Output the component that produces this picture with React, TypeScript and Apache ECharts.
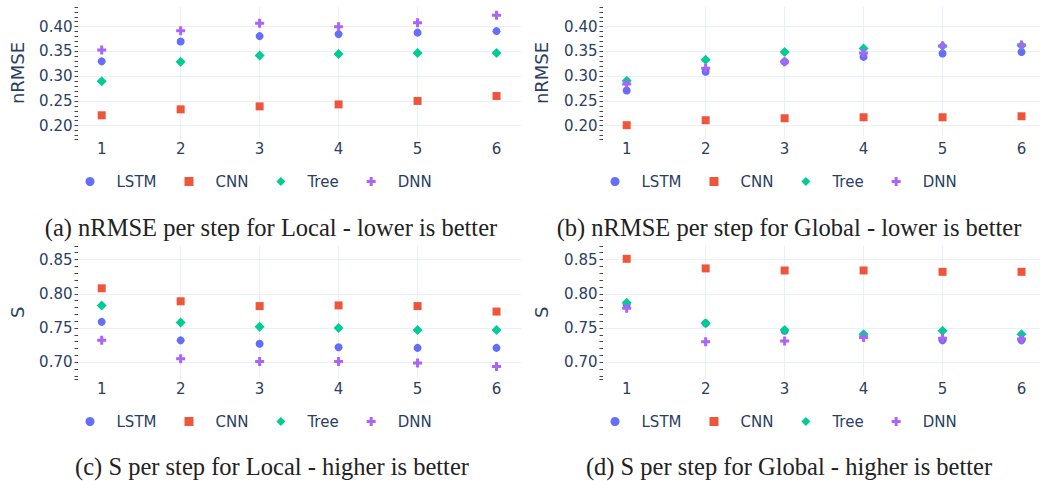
import React, { useEffect, useRef } from "react";
import * as echarts from "echarts";

// ---------- data ----------
const steps = [1, 2, 3, 4, 5, 6];
const modelNames = ["LSTM", "CNN", "Tree", "DNN"];

// (a) nRMSE per step, Local
const localNrmseLSTM = [0.330, 0.370, 0.381, 0.385, 0.388, 0.391];
const localNrmseCNN = [0.221, 0.233, 0.239, 0.243, 0.250, 0.260];
const localNrmseTree = [0.290, 0.329, 0.342, 0.345, 0.347, 0.347];
const localNrmseDNN = [0.353, 0.392, 0.407, 0.400, 0.408, 0.423];

// (b) nRMSE per step, Global
const globalNrmseLSTM = [0.271, 0.309, 0.329, 0.339, 0.346, 0.349];
const globalNrmseCNN = [0.201, 0.211, 0.215, 0.217, 0.217, 0.219];
const globalNrmseTree = [0.291, 0.333, 0.349, 0.356, 0.361, 0.362];
const globalNrmseDNN = [0.284, 0.316, 0.329, 0.347, 0.361, 0.363];

// (c) S per step, Local
const localSLSTM = [0.759, 0.732, 0.727, 0.722, 0.721, 0.721];
const localSCNN = [0.808, 0.789, 0.782, 0.783, 0.782, 0.774];
const localSTree = [0.783, 0.758, 0.752, 0.750, 0.747, 0.747];
const localSDNN = [0.732, 0.705, 0.701, 0.701, 0.699, 0.694];

// (d) S per step, Global
const globalSLSTM = [0.784, 0.757, 0.746, 0.739, 0.732, 0.732];
const globalSCNN = [0.851, 0.837, 0.834, 0.834, 0.832, 0.832];
const globalSTree = [0.787, 0.757, 0.747, 0.741, 0.746, 0.741];
const globalSDNN = [0.779, 0.730, 0.731, 0.736, 0.735, 0.734];

const captions = [
  "(a) nRMSE per step for Local - lower is better",
  "(b) nRMSE per step for Global - lower is better",
  "(c) S per step for Local - higher is better",
  "(d) S per step for Global - higher is better",
];

// ---------- styles ----------
const COLORS = ["#636efa", "#EF553B", "#00cc96", "#ab63fa"];
const SYMBOLS = ["circle", "rect", "diamond", "path://M3,0H6V3H9V6H6V9H3V6H0V3H3Z"];
const SYMBOL_SIZES = [8, 8, 10, 9];
const TEXT = "#2a3f5f";
const GRIDC = "#ebf0f8";
const FONT = "DejaVu Sans";
const TICKC = "#444444";

const panels = [
  { series: [localNrmseLSTM, localNrmseCNN, localNrmseTree, localNrmseDNN], left: 78, top: 6.9, height: 132.1, ymin: 0.1731, ymax: 0.44, name: "nRMSE", split: 5, nameGap: 52, legendLeft: 85.5, legendTop: 174, cap: { x: 271, y: 227 } },
  { series: [globalNrmseLSTM, globalNrmseCNN, globalNrmseTree, globalNrmseDNN], left: 603, top: 6.9, height: 132.1, ymin: 0.1731, ymax: 0.44, name: "nRMSE", split: 5, nameGap: 53, legendLeft: 610.5, legendTop: 174, cap: { x: 789, y: 227 } },
  { series: [localSLSTM, localSCNN, localSTree, localSDNN], left: 78, top: 245.8, height: 133.2, ymin: 0.6756, ymax: 0.87, name: "S", split: 4, nameGap: 52, legendLeft: 85.5, legendTop: 414, cap: { x: 272, y: 466 } },
  { series: [globalSLSTM, globalSCNN, globalSTree, globalSDNN], left: 603, top: 245.8, height: 133.2, ymin: 0.6756, ymax: 0.87, name: "S", split: 4, nameGap: 53, legendLeft: 610.5, legendTop: 414, cap: { x: 789, y: 466 } },
];

function buildOption() {
  const grid: any[] = [];
  const xAxis: any[] = [];
  const yAxis: any[] = [];
  const series: any[] = [];
  const legend: any[] = [];
  const graphic: any[] = [];

  panels.forEach((p, gi) => {
    grid.push({ left: p.left, top: p.top, width: 443, height: p.height, containLabel: false, outerBoundsMode: "none" });
    xAxis.push({
      type: "value",
      gridIndex: gi,
      min: 0.7,
      max: 6.31,
      splitNumber: 5,
      axisLine: { show: false },
      axisTick: { show: false, customValues: steps },
      axisLabel: {
        customValues: steps,
        color: TEXT,
        fontFamily: FONT,
        fontSize: 15,
        margin: 2,
        formatter: (v: number) => String(v),
      },
      splitLine: { show: true, showMinLine: false, showMaxLine: false, lineStyle: { color: GRIDC, width: 1 } },
    });
    yAxis.push({
      type: "value",
      gridIndex: gi,
      min: p.ymin,
      max: p.ymax,
      splitNumber: p.split,
      name: p.name,
      nameLocation: "middle",
      nameGap: p.nameGap,
      nameTextStyle: { color: TEXT, fontFamily: FONT, fontSize: 18 },
      axisLine: { show: false },
      axisTick: { show: true, inside: false, length: 3.5, lineStyle: { color: TICKC, width: 1 } },
      minorTick: { show: true, splitNumber: 5, length: 3.5, lineStyle: { color: TICKC, width: 1 } },
      minorSplitLine: { show: false },
      axisLabel: {
        showMinLabel: false,
        showMaxLabel: false,
        color: TEXT,
        fontFamily: FONT,
        fontSize: 15,
        margin: 5.5,
        formatter: (v: number) => v.toFixed(2),
      },
      splitLine: { show: true, showMinLine: false, showMaxLine: false, lineStyle: { color: GRIDC, width: 1 } },
    });
    p.series.forEach((vals, si) => {
      series.push({
        type: "scatter",
        name: modelNames[si],
        xAxisIndex: gi,
        yAxisIndex: gi,
        data: steps.map((s, i) => [s, vals[i]]),
        symbol: SYMBOLS[si],
        symbolSize: SYMBOL_SIZES[si],
        itemStyle: { color: COLORS[si], opacity: 1 },
        emphasis: { disabled: true },
        z: 2 + si,
      });
    });
    legend.push({
      left: p.legendLeft,
      top: p.legendTop,
      orient: "horizontal",
      padding: 0,
      itemWidth: 9,
      itemHeight: 9,
      itemGap: 28,
      selectedMode: false,
      data: modelNames.map((n, si) => ({ name: n, icon: SYMBOLS[si] })),
      textStyle: { color: TEXT, fontFamily: FONT, fontSize: 15, padding: [0, 0, 0, 17] },
    });
    graphic.push({
      type: "text",
      x: p.cap.x,
      y: p.cap.y,
      style: {
        text: captions[gi],
        x: 0,
        y: 0,
        align: "center",
        verticalAlign: "middle",
        font: '24.5px "Liberation Serif"',
        fill: "#222222",
      },
    });
  });

  return {
    animation: false,
    backgroundColor: "#ffffff",
    grid,
    xAxis,
    yAxis,
    series,
    legend,
    graphic,
    tooltip: { show: false },
  };
}

export default function App() {
  const ref = useRef<HTMLDivElement>(null);
  useEffect(() => {
    if (!ref.current) return;
    const chart = echarts.init(ref.current, undefined, { renderer: "svg" });
    chart.setOption(buildOption() as any);
    return () => chart.dispose();
  }, []);
  return (
    <div
      ref={ref}
      style={{ position: "absolute", left: 0, top: 0, width: 1040, height: 481, background: "#fff" }}
    />
  );
}
